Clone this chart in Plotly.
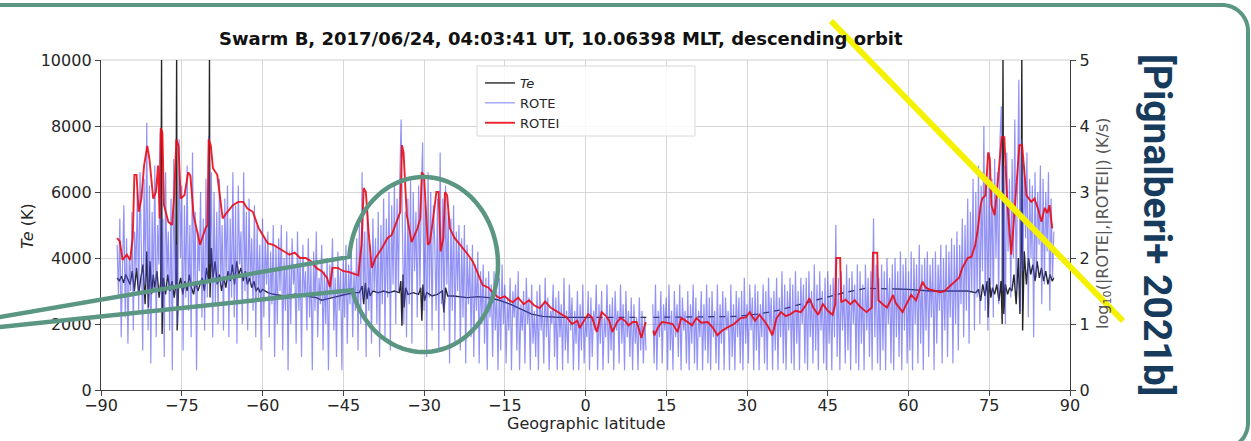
import numpy as np
import plotly.graph_objects as go
from plotly.subplots import make_subplots

# ---------------------------------------------------------------- data
# ROTE, log10(|ROTE|) in K/s, one value every 0.25 deg of latitude from -87 to 87
# (each row covers 2 degrees)
rote_lat = np.arange(-87.0, 87.001, 0.25)
rote_south = [
    2.2, 1.4, 2.6, 0.8, 1.9, 2.8, 1.1, 2.3,      # -87
    0.7, 2.0, 1.5, 2.7, 0.9, 2.4, 1.8, 3.0,      # -85
    1.2, 3.3, 2.1, 0.6, 3.2, 1.6, 4.05, 0.9,     # -83
    3.1, 0.4, 2.7, 1.5, 3.4, 0.8, 2.5, 1.9,      # -81
    3.9, 1.2, 2.6, 0.5, 3.3, 1.7, 2.4, 0.9,      # -79
    2.9, 0.3, 3.5, 1.6, 2.2, 1.0, 3.8, 2.0,      # -77
    3.1, 0.6, 2.8, 1.4, 3.4, 1.2, 2.5, 0.8,      # -75
    3.6, 1.5, 2.7, 0.3, 2.4, 1.8, 3.0, 1.1,      # -73
    2.6, 0.9, 3.2, 1.4, 3.85, 1.9, 3.3, 0.8,     # -71
    3.0, 1.3, 2.7, 1.0, 3.2, 1.6, 2.5, 0.9,      # -69
    2.9, 1.7, 3.1, 0.8, 2.6, 1.4, 3.3, 1.1,      # -67
    2.8, 0.7, 3.1, 1.9, 2.4, 1.0, 3.3, 1.5,      # -65
    2.7, 0.9, 2.9, 1.6, 2.3, 1.2, 2.8, 0.8,      # -63
    2.5, 1.4, 2.2, 0.6, 2.6, 1.1, 2.3, 1.6,      # -61
    2.4, 0.8, 2.1, 1.3, 2.5, 0.5, 2.2, 1.0,      # -59
    2.3, 1.5, 2.5, 0.6, 2.0, 1.2, 2.4, 0.3,      # -57
    2.1, 1.0, 2.3, 1.6, 1.9, 0.7, 2.4, 1.2,      # -55
    2.0, 0.5, 2.2, 1.4, 1.8, 0.9, 2.3, 1.1,      # -53
    1.9, 0.3, 2.1, 1.2, 2.4, 0.8, 1.7, 1.3,      # -51
    2.2, 0.6, 1.8, 1.0, 2.0, 0.3, 1.9, 1.4,      # -49
    2.3, 0.9, 1.7, 0.5, 2.1, 1.2, 1.8, 0.3,      # -47
    2.0, 1.1, 2.2, 0.7, 1.9, 1.3, 2.1, 0.8,      # -45
]
rote_midsouth = [
    1.8, 1.2, 2.3, 0.6, 2.6, 1.0, 3.3, 1.4,      # -43
    2.4, 0.5, 2.8, 1.2, 2.2, 0.7, 2.6, 1.5,      # -41
    2.3, 1.0, 2.7, 0.5, 2.5, 1.3, 2.9, 0.8,      # -39
    2.6, 1.4, 3.0, 0.6, 2.8, 1.6, 3.1, 1.0,      # -37
    2.9, 1.5, 3.2, 4.1, 2.4, 1.0, 2.7, 0.8,      # -35
    2.9, 1.3, 3.2, 0.7, 3.0, 1.8, 2.7, 1.1,      # -33
    3.1, 1.5, 3.0, 3.75, 1.2, 2.8, 0.5, 3.3,     # -31
    1.4, 3.0, 0.9, 2.8, 2.2, 1.2, 2.9, 0.6,      # -29
    3.6, 1.3, 2.9, 0.9, 3.1, 1.6, 2.7, 0.4,      # -27
    2.6, 1.2, 2.8, 0.7, 2.4, 1.5, 2.5, 0.6,      # -25
    2.3, 1.1, 2.5, 0.4, 2.2, 1.3, 2.0, 0.8,      # -23
    2.2, 0.5, 1.9, 1.2, 2.1, 0.4, 1.8, 1.0,      # -21
    1.9, 0.7, 1.7, 0.3, 1.8, 1.1, 1.6, 0.5,      # -19
    1.8, 0.9, 1.5, 0.3, 1.7, 0.6, 1.9, 1.0,      # -17
    1.6, 0.4, 1.4, 0.9, 1.7, 0.3, 1.5, 1.1,      # -15
    1.6, 0.6, 1.8, 0.3, 1.3, 0.9, 1.5, 0.4,      # -13
]
rote_equator = [
    1.7, 1.0, 1.4, 0.3, 1.6, 0.7, 1.2, 0.5,      # -11
    1.5, 0.3, 1.6, 0.9, 1.3, 0.4, 1.7, 0.8,      # -9
    1.4, 0.3, 1.2, 1.0, 1.6, 0.5, 1.4, 0.3,      # -7
    1.5, 0.8, 1.3, 0.3, 1.7, 0.6, 1.2, 0.4,      # -5
    1.6, 0.9, 1.4, 0.3, 1.2, 0.7, 1.5, 0.3,      # -3
    1.3, 0.6, 1.6, 0.4, 1.1, 0.8, 1.5, 0.3,      # -1
    1.4, 0.5, 1.2, 0.9, 1.6, 0.3, 1.3, 0.7,      # 1
    1.5, 0.3, 1.1, 0.8, 1.6, 0.4, 1.3, 0.6,      # 3
    1.4, 0.3, 1.5, 0.9, 1.2, 0.4, 1.6, 0.7,      # 5
    1.3, 0.3, 1.5, 0.8, 1.2, 0.5, 1.4, 0.3,      # 7
    1.3, 0.7, 1.1, 0.3, 1.4, 0.6, 1.2, 0.4,      # 9
    1.1, 0.6, None, None, None, None, 1.3, 0.4,  # 11 (data gap)
    1.6, 0.3, 1.2, 0.8, 1.5, 0.4, 1.3, 0.9,      # 13
    1.4, 0.3, 1.6, 0.6, 1.2, 0.3, 1.5, 0.8,      # 15
    1.3, 0.5, 1.6, 0.3, 1.4, 0.9, 1.2, 0.4,      # 17
    1.5, 0.3, 1.3, 0.7, 1.6, 0.4, 1.4, 0.3,      # 19
    1.2, 0.8, 1.5, 0.3, 1.3, 0.6, 1.6, 0.4,      # 21
    1.4, 0.3, 1.5, 0.8, 1.2, 0.4, 1.6, 0.3,      # 23
    1.3, 0.7, 1.5, 0.3, 1.4, 0.9, 1.2, 0.3,      # 25
    1.6, 0.5, 1.3, 0.3, 1.5, 0.8, 1.4, 0.4,      # 27
    1.5, 0.3, 1.7, 0.7, 1.3, 0.4, 1.6, 0.9,      # 29
    1.4, 0.3, 1.6, 0.6, 1.5, 0.3, 1.3, 0.8,      # 31
]
rote_north = [
    1.6, 0.4, 1.5, 0.3, 1.7, 0.9, 1.4, 0.3,      # 33
    1.5, 0.6, 1.7, 0.3, 1.4, 0.8, 1.8, 0.4,      # 35
    1.6, 0.3, 1.5, 0.9, 1.7, 0.4, 1.6, 0.3,      # 37
    1.8, 0.7, 1.5, 0.3, 1.7, 1.0, 1.6, 0.4,      # 39
    1.7, 0.3, 1.8, 0.8, 1.5, 0.4, 1.9, 0.6,      # 41
    1.6, 0.3, 1.8, 0.9, 1.5, 0.4, 1.7, 0.3,      # 43
    1.8, 0.7, 1.6, 0.3, 1.7, 0.8, 2.5, 0.5,      # 45
    1.7, 0.3, 1.8, 0.9, 1.6, 0.4, 1.9, 0.6,      # 47
    1.7, 0.3, 1.8, 1.0, 1.6, 0.4, 1.9, 0.3,      # 49
    1.8, 0.7, 1.6, 0.3, 1.9, 0.9, 1.7, 0.5,      # 51
    1.8, 0.3, 2.6, 0.8, 1.9, 0.4, 1.7, 0.3,      # 53
    1.9, 0.6, 1.8, 0.3, 2.0, 1.0, 1.7, 0.4,      # 55
    1.9, 0.3, 2.0, 0.8, 1.8, 0.5, 2.1, 0.3,      # 57
    1.9, 0.9, 2.0, 0.4, 1.8, 0.6, 2.1, 0.3,      # 59
    2.0, 1.0, 1.9, 0.4, 2.2, 0.7, 1.9, 0.3,      # 61
    2.0, 0.9, 2.1, 0.5, 1.9, 1.1, 2.0, 0.3,      # 63
    2.1, 0.7, 1.9, 1.2, 2.2, 0.4, 2.0, 0.9,      # 65
    2.2, 0.5, 2.1, 1.1, 2.3, 0.4, 2.2, 1.0,      # 67
    2.4, 0.6, 2.2, 1.3, 2.6, 0.8, 2.5, 1.2,      # 69
    2.9, 0.7, 2.7, 1.5, 3.2, 0.9, 3.0, 1.4,      # 71
    3.4, 1.0, 3.1, 1.8, 4.0, 1.2, 3.3, 0.9,      # 73
    3.6, 1.6, 3.2, 1.1, 3.5, 2.0, 3.3, 1.3,      # 75
    3.8, 4.3, 1.5, 3.4, 1.0, 3.6, 2.1, 3.2,      # 77
    1.4, 3.5, 2.0, 4.1, 1.5, 3.7, 4.7, 1.2,      # 79
    3.8, 1.8, 3.4, 2.3, 3.6, 1.1, 3.2, 2.0,      # 81
    3.1, 0.8, 3.3, 1.7, 3.0, 2.2, 3.4, 1.3,      # 83
    3.2, 1.6, 3.0, 2.1, 3.3, 1.2, 2.9, 1.7,      # 85
    2.4,                                         # 87
]
rote_log = rote_south + rote_midsouth + rote_equator + rote_north

# ROTEI, log10(|ROTEI|) in K/s
rotei_lat = [
    -87.0, -86.5, -86.0, -85.2, -84.6, -84.1, -83.8, -83.4, -83.0, -82.5,
    -82.0, -81.4, -81.0, -80.3, -79.8, -79.4, -79.1, -78.9, -78.6, -78.3,
    -77.5, -76.8, -76.4, -76.0, -75.6, -75.2, -74.5, -73.8, -73.4, -72.8,
    -71.6, -70.6, -70.2, -70.0, -69.6, -69.2, -68.4, -67.4, -66.5, -65.5,
    -64.5, -63.6, -62.8, -61.8, -60.7, -60.0, -59.0, -58.0, -57.0, -56.0,
    -55.0, -54.0, -53.0, -52.0, -51.0, -50.0, -49.0, -48.0, -47.5, -47.0,
    -46.0, -45.0, -44.0, -43.0, -42.2, -41.6, -41.2, -40.8, -40.3, -39.7,
    -39.0, -37.8, -36.8, -36.0, -35.0, -34.4, -34.1, -33.8, -33.2, -32.3,
    -31.2, -30.7, -30.4, -30.0, -29.3, -28.9, -28.3, -27.7, -27.3, -26.9,
    -26.4, -26.1, -25.7, -25.2, -24.3, -22.8, -21.8, -20.9, -20.0, -19.1,
    -18.0, -17.0, -15.9, -15.0, -14.0, -13.5, -12.5, -11.5, -10.5, -9.5,
    -8.5, -7.5, -6.5, -5.5, -4.2, -3.5, -2.5, -1.5, -1.1, -0.3,
    0.5, 1.2, 2.1, 2.6, 3.0, 3.8, 4.4, 5.0, 5.8, 6.5,
    7.3, 8.0, 8.8, 9.5, 10.1, 10.4, 10.9, 11.2, 11.8, 12.6,
    12.8, 13.5, 14.2, 15.0, 16.2, 17.1, 17.8, 18.8, 19.8, 20.6,
    21.5, 22.7, 23.6, 24.5, 25.4, 26.4, 27.6, 28.8, 29.8, 30.5,
    31.5, 32.3, 33.2, 34.0, 34.7, 35.5, 36.3, 37.2, 38.1, 39.0,
    40.0, 40.9, 41.6, 42.3, 43.2, 44.1, 45.0, 45.9, 46.4, 46.6,
    47.3, 47.5, 48.3, 49.2, 50.0, 50.9, 51.6, 52.2, 53.2, 53.4,
    54.2, 54.4, 55.2, 56.0, 56.7, 57.1, 57.6, 58.9, 59.6, 60.5,
    61.4, 62.0, 62.6, 63.2, 64.0, 65.0, 66.0, 66.7, 67.5, 68.5,
    69.4, 70.0, 71.0, 71.7, 72.4, 72.8, 73.4, 73.7, 74.3, 74.8,
    75.1, 75.4, 76.0, 76.5, 77.0, 77.3, 77.8, 78.3, 79.1, 79.5,
    79.9, 80.4, 80.6, 81.1, 81.9, 82.8, 83.4, 84.0, 84.7, 85.3,
    85.8, 86.2, 86.7,
]
rotei_log = [
    2.30, 2.25, 1.97, 2.05, 1.97, 2.30, 3.26, 3.26, 2.70, 2.90,
    3.40, 3.70, 3.50, 2.90, 3.00, 3.40, 2.60, 3.97, 3.90, 2.80,
    2.55, 2.50, 2.95, 3.80, 3.70, 2.90, 2.95, 3.30, 3.25, 2.65,
    2.20, 2.45, 2.50, 3.80, 3.70, 3.36, 3.26, 2.60, 2.70, 2.80,
    2.85, 2.85, 2.75, 2.70, 2.45, 2.35, 2.22, 2.20, 2.15, 2.10,
    2.05, 2.08, 2.00, 2.00, 1.95, 1.85, 1.80, 1.70, 1.56, 1.85,
    1.85, 1.80, 1.79, 1.76, 1.74, 2.20, 3.06, 3.00, 2.40, 1.85,
    2.00, 2.15, 2.30, 2.35, 2.55, 2.70, 3.71, 3.60, 2.65, 2.24,
    2.45, 2.60, 3.30, 3.25, 2.20, 2.24, 2.60, 3.00, 3.00, 2.10,
    2.30, 3.00, 2.95, 2.45, 2.30, 2.15, 2.05, 1.94, 1.75, 1.59,
    1.55, 1.45, 1.39, 1.42, 1.35, 1.33, 1.40, 1.30, 1.36, 1.28,
    1.24, 1.34, 1.25, 1.20, 1.14, 1.10, 1.00, 1.05, 0.94, 1.05,
    1.15, 1.10, 0.88, 1.05, 1.18, 1.12, 1.05, 0.88, 1.02, 1.09,
    1.05, 0.98, 1.03, 1.03, 0.85, 0.79, 0.95, 1.03, None, 0.90,
    0.83, 0.95, 1.03, 1.02, 1.00, 0.88, 1.09, 1.04, 0.98, 1.09,
    1.02, 1.03, 0.95, 0.83, 0.90, 0.95, 1.00, 1.09, 1.10, 1.18,
    1.05, 1.14, 1.05, 0.95, 0.83, 1.09, 1.18, 1.12, 1.15, 1.20,
    1.18, 1.28, 1.39, 1.25, 1.14, 1.30, 1.20, 1.14, 1.30, 2.00,
    2.00, 1.33, 1.37, 1.30, 1.36, 1.27, 1.22, 1.18, 1.25, 2.08,
    2.08, 1.36, 1.30, 1.25, 1.36, 1.44, 1.32, 1.18, 1.30, 1.44,
    1.36, 1.50, 1.64, 1.55, 1.52, 1.50, 1.48, 1.50, 1.56, 1.64,
    1.70, 1.85, 2.00, 2.02, 2.20, 2.39, 2.80, 2.90, 2.95, 3.60,
    3.50, 2.80, 2.65, 3.06, 3.50, 3.83, 3.83, 2.90, 2.05, 2.50,
    2.95, 3.60, 3.71, 3.71, 2.95, 2.85, 2.90, 2.76, 2.55, 2.76,
    2.68, 2.80, 2.45,
]

# Electron temperature Te (K): southern high/mid latitudes
te_south_lat = [
    -87.0, -86.6, -86.2, -85.8, -85.4, -85.0, -84.6, -84.2, -83.8, -83.4,
    -83.0, -82.6, -82.2, -81.8, -81.5, -81.2, -80.9, -80.6, -80.3, -80.0,
    -79.6, -79.2, -78.9, -78.75, -78.65, -78.4, -78.0, -77.6, -77.2, -76.8,
    -76.4, -76.1, -75.95, -75.85, -75.6, -75.2, -74.8, -74.4, -74.0, -73.6,
    -73.2, -72.8, -72.4, -72.0, -71.6, -71.2, -70.8, -70.4, -70.0, -69.85,
    -69.75, -69.5, -69.2, -68.8, -68.4, -68.0, -67.6, -67.2, -66.8, -66.4,
    -66.0, -65.6, -65.2, -64.8, -64.4, -64.0, -63.6, -63.2, -62.8, -62.4,
    -62.0, -61.6, -61.2, -60.8, -60.4, -60.0, -59.0, -58.0, -56.0, -54.0,
    -52.0, -50.0, -49.0, -48.0, -47.0, -45.0, -43.0, -42.0, -41.5, -41.2,
    -40.9, -40.6, -40.3, -40.0, -39.5, -38.5, -37.5, -36.5, -35.5, -34.6,
    -34.3, -34.1, -33.9, -33.7, -33.4, -33.0, -32.0, -31.0, -30.6, -30.4,
    -30.2, -29.9, -29.5, -28.5, -27.5, -26.6, -26.3, -26.0, -25.6, -24.5,
    -22.0, -20.0, -18.0, -16.0, -14.0, -12.0, -10.0, -8.0, -5.0, -2.0, 0.0,
]
te_south_k = [
    3400, 3300, 3450, 3250, 3500, 3350, 3200, 3600, 3000, 3700,
    2900, 3400, 3800, 2600, 4200, 2500, 3900, 2900, 3500, 3100,
    3600, 2800, 3300, 10000, 1700, 3400, 2900, 3500, 3000, 3300,
    2800, 3200, 10000, 1800, 3100, 3400, 2900, 3300, 3000, 3500,
    3100, 2900, 3300, 3000, 3200, 3400, 3000, 3700, 3300, 10000,
    2800, 4300, 3400, 3900, 3200, 3500, 3000, 3400, 3100, 3600,
    3300, 3800, 3200, 3900, 3500, 3700, 3300, 3600, 3200, 3400,
    3100, 3300, 3000, 3100, 2950, 3050, 2950, 2900, 2850, 2900,
    2850, 2800, 2720, 2750, 2800, 2880, 2950, 2950, 3150, 2600,
    3250, 2750, 3100, 2850, 3000, 2950, 3000, 2950, 3000, 2950,
    3300, 1950, 3500, 2500, 3100, 2900, 2950, 2900, 3100, 2100,
    3200, 2700, 2950, 2850, 2900, 3000, 2350, 3100, 2850, 2850,
    2800, 2830, 2800, 2720, 2600, 2450, 2300, 2230, 2200, 2200, 2200,
]
# Te along the low-latitude stretch of the pass
te_equator_lat = [0.0, 5.0, 10.0, 11.3, 11.8, 12.6, 18.0, 24.0, 28.0, 32.0,
                  36.0, 40.0, 44.0, 48.0, 52.0, 56.0, 58.0]
te_equator_k = [2200, 2200, 2210, 2200, None, 2200, 2210, 2200, 2230, 2300,
                2420, 2600, 2780, 2950, 3080, 3080, 3060]
# Te over the northern high latitudes
te_north_lat = [
    58.0, 60.0, 64.0, 68.0, 71.0, 72.5, 73.0, 73.4, 73.8, 74.2,
    74.6, 74.8, 75.0, 75.3, 75.6, 76.0, 76.4, 76.8, 77.2, 77.4,
    77.55, 77.7, 78.0, 78.4, 78.8, 79.2, 79.6, 80.0, 80.4, 80.7,
    80.9, 81.05, 81.2, 81.5, 81.9, 82.3, 82.7, 83.1, 83.5, 83.9,
    84.3, 84.7, 85.1, 85.5, 85.9, 86.3, 86.7, 87.0,
]
te_north_k = [
    3060, 3050, 3000, 3010, 3000, 2950, 3050, 2700, 3200, 2850,
    3300, 2200, 3400, 2800, 3100, 2900, 3200, 2700, 3300, 2000,
    10000, 2300, 3200, 2900, 3100, 3000, 3500, 2600, 4000, 2300,
    4300, 10000, 1800, 4200, 3200, 4000, 3500, 3800, 3300, 3900,
    3400, 3700, 3300, 3600, 3200, 3500, 3300, 3400,
]

x_ticks = [-90, -75, -60, -45, -30, -15, 0, 15, 30, 45, 60, 75, 90]
te_ticks = [0, 2000, 4000, 6000, 8000, 10000]
log_ticks = [0, 1, 2, 3, 4, 5]

TITLE = "Swarm B, 2017/06/24, 04:03:41 UT, 10.06398 MLT, descending orbit"
REF = "[Pignalberi+ 2021b]"

# ---------------------------------------------------------------- geometry
W, H = 1251, 441
L, R, T, B = 101, 1070, 60, 390          # plot area in pixels


def px(x):
    return (x - L) / (R - L)


def py(y):
    return (B - y) / (B - T)


GREEN = "#5a9682"
FONT = "DejaVu Sans"
TE_COLOR = "rgba(0,0,0,0.85)"

fig = make_subplots(specs=[[{"secondary_y": True}]])

fig.add_trace(go.Scatter(x=te_south_lat, y=te_south_k, mode="lines", name="<i>Te</i>",
                         line=dict(color=TE_COLOR, width=1.4), legendrank=1),
              secondary_y=False)
fig.add_trace(go.Scatter(x=te_equator_lat, y=te_equator_k, mode="lines", showlegend=False,
                         line=dict(color=TE_COLOR, width=1.3, dash="6px,5px")),
              secondary_y=False)
fig.add_trace(go.Scatter(x=te_north_lat, y=te_north_k, mode="lines", showlegend=False,
                         line=dict(color=TE_COLOR, width=1.4)),
              secondary_y=False)
fig.add_trace(go.Scatter(x=rote_lat, y=rote_log, mode="lines", name="ROTE",
                         line=dict(color="rgba(80,80,240,0.62)", width=1.2), legendrank=2),
              secondary_y=True)
fig.add_trace(go.Scatter(x=rotei_lat, y=rotei_log, mode="lines", name="ROTEI",
                         line=dict(color="rgba(235,10,20,0.9)", width=1.9), legendrank=3),
              secondary_y=True)

axis_font = dict(family=FONT, size=16, color="#262626")
fig.update_xaxes(domain=[0, 1], range=[-90, 90], tickvals=x_ticks, ticks="outside",
                 ticklen=5, tickcolor="#444", tickfont=axis_font, showgrid=True,
                 gridcolor="#d6d6d6", gridwidth=1, showline=True, linecolor="#3a3a3a",
                 linewidth=1.4, zeroline=False, ticklabelstandoff=-4)
fig.update_yaxes(range=[0, 10000], tickvals=te_ticks,
                 ticktext=[str(v) for v in te_ticks], ticks="outside", ticklen=5,
                 tickcolor="#444", tickfont=axis_font, showgrid=True,
                 gridcolor="#d6d6d6", gridwidth=1, showline=True, linecolor="#3a3a3a",
                 linewidth=1.4, zeroline=False, secondary_y=False)
fig.update_yaxes(range=[0, 5], tickvals=log_ticks, ticks="outside", ticklen=5,
                 tickcolor="#444", tickfont=axis_font, showgrid=False,
                 showline=True, linecolor="#3a3a3a", linewidth=1.4, zeroline=False,
                 secondary_y=True)


def path_from(points):
    return "M " + " L ".join(f"{px(x):.5f},{py(y):.5f}" for x, y in points)


# callout: two leader lines joined to an open ellipse around the mid-latitude peaks
cx, cy, rx, ry = 423.5, 264.5, 74.5, 87.5
t = np.radians(np.linspace(-175, 163, 120))
arc = [(cx + rx * np.cos(a), cy + ry * np.sin(a)) for a in t]
callout = [(-20, 320.5)] + arc + [(-20, 329)]

# slide frame with a rounded corner at top right
c = np.radians(np.linspace(-90, 0, 20))
corner_top = [(1222 + 26 * np.cos(a), 31 + 26 * np.sin(a)) for a in c]
c2 = np.radians(np.linspace(0, 60, 12))
corner_bot = [(1222 + 26 * np.cos(a), 423 + 26 * np.sin(a)) for a in c2]
frame = [(-5, 5)] + corner_top + corner_bot

shapes = [
    dict(type="line", xref="paper", yref="paper", x0=0, x1=1, y0=1, y1=1,
         line=dict(color="#cfcfcf", width=1.2), layer="below"),
    dict(type="rect", xref="paper", yref="paper", x0=px(477), x1=px(695),
         y0=py(136), y1=py(66), line=dict(color="#d8d8d8", width=1),
         fillcolor="rgba(255,255,255,0.85)", layer="above"),
    dict(type="path", xref="paper", yref="paper", path=path_from(frame),
         line=dict(color=GREEN, width=4), layer="above"),
    dict(type="path", xref="paper", yref="paper", path=path_from(callout),
         line=dict(color=GREEN, width=4.5), layer="above"),
    dict(type="line", xref="paper", yref="paper", x0=px(831), y0=py(21),
         x1=px(1123), y1=py(321), line=dict(color="#f4f200", width=6), layer="above"),
]

annotations = [
    dict(text=f"<b>{TITLE}</b>", x=px(561), y=py(38), xref="paper", yref="paper",
         showarrow=False, font=dict(family=FONT, size=18, color="#111"),
         xanchor="center", yanchor="middle"),
    dict(text="Geographic latitude", x=px(586), y=py(423), xref="paper", yref="paper",
         showarrow=False, font=dict(family=FONT, size=16, color="#262626"),
         xanchor="center", yanchor="middle"),
    dict(text="<i>Te</i> (K)", x=px(27), y=py(226), xref="paper", yref="paper",
         textangle=-90, showarrow=False, font=dict(family=FONT, size=16, color="#262626"),
         xanchor="center", yanchor="middle"),
    dict(text="log<sub>10</sub>(|ROTE|,|ROTEI|) (K/s)", x=px(1103), y=py(224),
         xref="paper", yref="paper", textangle=-90, showarrow=False,
         font=dict(family=FONT, size=16, color="#555"),
         xanchor="center", yanchor="middle"),
    dict(text=f"<b>{REF}</b>", x=px(1157), y=py(225), xref="paper", yref="paper",
         textangle=90, showarrow=False, font=dict(family="Roboto", size=39, color="#173b5c"),
         xanchor="center", yanchor="middle"),
]

fig.update_layout(
    width=W, height=H,
    margin=dict(l=L, r=W - R, t=T, b=H - B),
    paper_bgcolor="white", plot_bgcolor="white",
    shapes=shapes, annotations=annotations,
    showlegend=True,
    legend=dict(x=px(480), y=py(68), xanchor="left", yanchor="top",
                bgcolor="rgba(0,0,0,0)", borderwidth=0,
                font=dict(family=FONT, size=13, color="#262626"),
                itemwidth=30, tracegroupgap=0),
)

fig.write_html("out.html")
